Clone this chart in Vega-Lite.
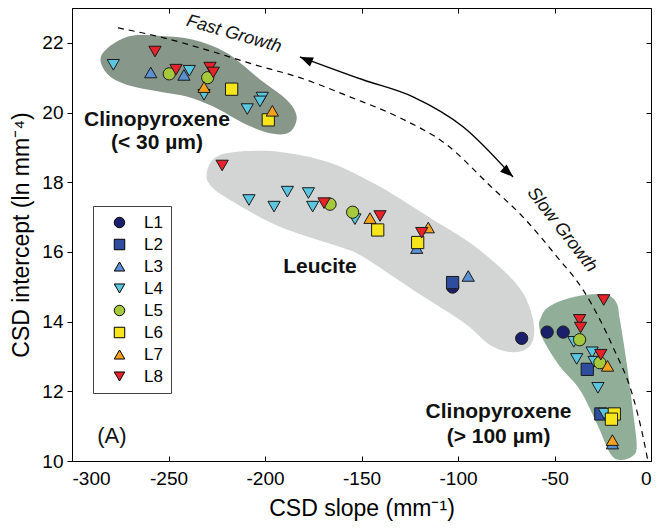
{
  "$schema": "https://vega.github.io/schema/vega-lite/v6.json",
  "width": 579,
  "height": 453,
  "autosize": "none",
  "padding": {"left": 72, "top": 8, "right": 5, "bottom": 69},
  "config": {
    "font": "Liberation Sans",
    "view": {"stroke": "#000", "strokeWidth": 1},
    "axis": {"grid": false, "domainColor": "#000", "tickColor": "#000", "labelColor": "#000", "titleColor": "#000", "labelFont": "Liberation Sans", "titleFont": "Liberation Sans", "labelFontSize": 19, "titleFontSize": 23, "titleFontWeight": "normal"},
    "legend": {"orient": "none", "legendX": 21, "legendY": 198, "padding": 8, "strokeColor": "#444", "fillColor": "#fff", "labelFontSize": 17, "labelFont": "Liberation Sans", "labelColor": "#000", "symbolSize": 110, "symbolStrokeColor": "#000", "symbolStrokeWidth": 1, "rowPadding": 4, "symbolOffset": 10, "labelOffset": 16}
  },
  "datasets": {
    "blobTop": [
      {"x": -284.6, "y": 21.66}, {"x": -271.7, "y": 22.17}, {"x": -254.4, "y": 22.2}, {"x": -237.2, "y": 22.09},
      {"x": -219.8, "y": 21.71}, {"x": -202.6, "y": 20.95}, {"x": -188.8, "y": 20.37}, {"x": -183.6, "y": 19.89},
      {"x": -187.0, "y": 19.45}, {"x": -195.7, "y": 19.39}, {"x": -209.5, "y": 19.65}, {"x": -226.8, "y": 20.17},
      {"x": -240.6, "y": 20.46}, {"x": -254.4, "y": 20.6}, {"x": -271.7, "y": 20.8}, {"x": -282.0, "y": 21.13}
    ],
    "blobLeu": [
      {"x": -230.1, "y": 18.3}, {"x": -225.9, "y": 18.7}, {"x": -215.5, "y": 18.87}, {"x": -192.2, "y": 18.87},
      {"x": -166.3, "y": 18.56}, {"x": -140.4, "y": 17.87}, {"x": -114.5, "y": 16.98}, {"x": -93.8, "y": 16.26},
      {"x": -76.7, "y": 15.48}, {"x": -66.3, "y": 14.82}, {"x": -61.1, "y": 14.05}, {"x": -61.1, "y": 13.47},
      {"x": -65.3, "y": 13.19}, {"x": -73.1, "y": 13.13}, {"x": -83.4, "y": 13.33}, {"x": -97.4, "y": 13.99},
      {"x": -123.3, "y": 14.91}, {"x": -149.2, "y": 15.86}, {"x": -161.1, "y": 16.14}, {"x": -192.2, "y": 16.72},
      {"x": -218.1, "y": 17.49}, {"x": -228.5, "y": 17.92}
    ],
    "blobGreen": [
      {"x": -57.5, "y": 14.05}, {"x": -54.0, "y": 14.38}, {"x": -45.4, "y": 14.62}, {"x": -33.3, "y": 14.77},
      {"x": -22.9, "y": 14.77}, {"x": -17.8, "y": 14.53}, {"x": -16.1, "y": 14.05}, {"x": -12.6, "y": 12.81},
      {"x": -9.2, "y": 11.37}, {"x": -7.4, "y": 10.41}, {"x": -10.0, "y": 10.12}, {"x": -16.1, "y": 10.03},
      {"x": -21.2, "y": 10.22}, {"x": -28.1, "y": 11.08}, {"x": -36.8, "y": 12.04}, {"x": -47.2, "y": 12.71},
      {"x": -55.8, "y": 13.47}, {"x": -57.9, "y": 13.86}
    ],
    "curve": [
      {"x": -276.2, "y": 22.43}, {"x": -254.4, "y": 22.17}, {"x": -228.5, "y": 21.77}, {"x": -205.2, "y": 21.37},
      {"x": -181.9, "y": 21.0}, {"x": -156.0, "y": 20.45}, {"x": -130.1, "y": 19.85}, {"x": -105.7, "y": 19.07},
      {"x": -83.4, "y": 17.9}, {"x": -66.3, "y": 17.0}, {"x": -48.7, "y": 15.86}, {"x": -35.2, "y": 14.91},
      {"x": -26.4, "y": 14.05}, {"x": -19.7, "y": 13.27}, {"x": -9.3, "y": 11.84}, {"x": -4.1, "y": 10.69},
      {"x": -1.6, "y": 10.0}
    ],
    "arrow": [
      {"x": -181.9, "y": 21.6}, {"x": -149.2, "y": 20.94}, {"x": -123.3, "y": 20.45}, {"x": -97.4, "y": 19.59}, {"x": -71.5, "y": 18.15}
    ],
    "regionLabels": [
      {"x": -256, "y": 19.79, "label": "Clinopyroxene"},
      {"x": -256, "y": 19.13, "label": "(< 30 µm)"},
      {"x": -171.5, "y": 15.57, "label": "Leucite"},
      {"x": -79, "y": 11.42, "label": "Clinopyroxene"},
      {"x": -79, "y": 10.68, "label": "(> 100 µm)"}
    ],
    "pts": [
      {"s": "L1", "x": -102.8, "y": 14.99}, {"s": "L1", "x": -67, "y": 13.52}, {"s": "L1", "x": -53.8, "y": 13.7}, {"s": "L1", "x": -45.5, "y": 13.7},
      {"s": "L2", "x": -102.8, "y": 15.12}, {"s": "L2", "x": -33, "y": 12.63}, {"s": "L2", "x": -26, "y": 11.35},
      {"s": "L3", "x": -259.2, "y": 21.15}, {"s": "L3", "x": -242, "y": 21.08}, {"s": "L3", "x": -121.4, "y": 16.11}, {"s": "L3", "x": -94.7, "y": 15.31}, {"s": "L3", "x": -20, "y": 10.5},
      {"s": "L4", "x": -278.6, "y": 21.37}, {"s": "L4", "x": -239.2, "y": 21.2}, {"s": "L4", "x": -231.6, "y": 20.51}, {"s": "L4", "x": -209.2, "y": 20.1},
      {"s": "L4", "x": -201.4, "y": 20.43}, {"s": "L4", "x": -202.6, "y": 20.32}, {"s": "L4", "x": -208.3, "y": 17.49}, {"s": "L4", "x": -195.3, "y": 17.3},
      {"s": "L4", "x": -188.4, "y": 17.73}, {"s": "L4", "x": -177.5, "y": 17.69}, {"s": "L4", "x": -175.3, "y": 17.3}, {"s": "L4", "x": -153.4, "y": 16.94},
      {"s": "L4", "x": -40, "y": 13.42}, {"s": "L4", "x": -30.5, "y": 13.12}, {"s": "L4", "x": -38.5, "y": 12.93}, {"s": "L4", "x": -29.5, "y": 12.85},
      {"s": "L4", "x": -27.5, "y": 12.1}, {"s": "L4", "x": -24.2, "y": 11.36},
      {"s": "L5", "x": -249.6, "y": 21.11}, {"s": "L5", "x": -229.7, "y": 21.0}, {"s": "L5", "x": -166.3, "y": 17.37}, {"s": "L5", "x": -154.6, "y": 17.14},
      {"s": "L5", "x": -37, "y": 13.48}, {"s": "L5", "x": -26.5, "y": 12.82},
      {"s": "L6", "x": -217.3, "y": 20.67}, {"s": "L6", "x": -198.3, "y": 19.79}, {"s": "L6", "x": -141.6, "y": 16.63}, {"s": "L6", "x": -120.9, "y": 16.27},
      {"s": "L6", "x": -19, "y": 11.35}, {"s": "L6", "x": -20.5, "y": 11.2},
      {"s": "L7", "x": -231.6, "y": 20.73}, {"s": "L7", "x": -196.2, "y": 20.05}, {"s": "L7", "x": -145.6, "y": 16.97}, {"s": "L7", "x": -115.4, "y": 16.7},
      {"s": "L7", "x": -22.5, "y": 12.73}, {"s": "L7", "x": -20, "y": 10.6},
      {"s": "L8", "x": -257, "y": 21.75}, {"s": "L8", "x": -246.1, "y": 21.23}, {"s": "L8", "x": -228.5, "y": 21.29}, {"s": "L8", "x": -226.8, "y": 21.15},
      {"s": "L8", "x": -222.2, "y": 18.48}, {"s": "L8", "x": -169.4, "y": 17.4}, {"s": "L8", "x": -140.4, "y": 17.03}, {"s": "L8", "x": -118.8, "y": 16.55},
      {"s": "L8", "x": -24.5, "y": 14.62}, {"s": "L8", "x": -37, "y": 14.05}, {"s": "L8", "x": -36.5, "y": 13.83}, {"s": "L8", "x": -26, "y": 13.05}
    ]
  },
  "layer": [
    {
      "data": {"name": "blobTop"},
      "mark": {"type": "line", "interpolate": "cardinal-closed", "fill": "#879789", "stroke": null, "strokeWidth": 0},
      "encoding": {
        "x": {"field": "x", "type": "quantitative", "scale": {"domain": [-300, 0], "nice": false, "zero": false}, "axis": null},
        "y": {"field": "y", "type": "quantitative", "scale": {"domain": [10, 23], "nice": false, "zero": false}, "axis": null},
        "order": {"value": null}
      }
    },
    {
      "data": {"name": "blobLeu"},
      "mark": {"type": "line", "interpolate": "cardinal-closed", "fill": "#d3d4d4", "stroke": null, "strokeWidth": 0},
      "encoding": {
        "x": {"field": "x", "type": "quantitative", "axis": null},
        "y": {"field": "y", "type": "quantitative", "axis": null},
        "order": {"value": null}
      }
    },
    {
      "data": {"name": "blobGreen"},
      "mark": {"type": "line", "interpolate": "cardinal-closed", "fill": "#90ae98", "stroke": null, "strokeWidth": 0},
      "encoding": {
        "x": {"field": "x", "type": "quantitative", "axis": null},
        "y": {"field": "y", "type": "quantitative", "axis": null},
        "order": {"value": null}
      }
    },
    {
      "data": {"name": "curve"},
      "mark": {"type": "line", "interpolate": "monotone", "stroke": "#000", "strokeWidth": 1.2, "strokeDash": [6, 5]},
      "encoding": {
        "x": {"field": "x", "type": "quantitative", "axis": {"orient": "top", "labels": false, "title": null, "tickSize": -5, "values": [-300, -250, -200, -150, -100, -50, 0], "domain": false}},
        "y": {"field": "y", "type": "quantitative", "axis": {"orient": "right", "labels": false, "title": null, "tickSize": -5, "values": [10, 12, 14, 16, 18, 20, 22], "domain": false}}
      }
    },
    {
      "data": {"name": "arrow"},
      "mark": {"type": "line", "interpolate": "monotone", "stroke": "#000", "strokeWidth": 1.4},
      "encoding": {
        "x": {"field": "x", "type": "quantitative", "axis": null},
        "y": {"field": "y", "type": "quantitative", "axis": null}
      }
    },
    {
      "data": {"values": [{"x": -178.8, "y": 21.52}]},
      "mark": {"type": "point", "shape": "M0,-1L-0.75,1L0.75,1Z", "filled": true, "fill": "#000", "stroke": null, "size": 170, "angle": 293, "opacity": 1},
      "encoding": {
        "x": {"field": "x", "type": "quantitative", "axis": null},
        "y": {"field": "y", "type": "quantitative", "axis": null}
      }
    },
    {
      "data": {"values": [{"x": -74, "y": 18.28}]},
      "mark": {"type": "point", "shape": "M0,-1L-0.75,1L0.75,1Z", "filled": true, "fill": "#000", "stroke": null, "size": 170, "angle": 132, "opacity": 1},
      "encoding": {
        "x": {"field": "x", "type": "quantitative", "axis": null},
        "y": {"field": "y", "type": "quantitative", "axis": null}
      }
    },
    {
      "data": {"name": "regionLabels"},
      "mark": {"type": "text", "font": "Liberation Sans", "fontWeight": "bold", "fontSize": 21, "align": "center", "baseline": "middle", "color": "#111"},
      "encoding": {
        "x": {"field": "x", "type": "quantitative", "axis": null},
        "y": {"field": "y", "type": "quantitative", "axis": null},
        "text": {"field": "label"}
      }
    },
    {
      "data": {"values": [{"x": -279.3, "y": 10.73, "label": "(A)"}]},
      "mark": {"type": "text", "font": "Liberation Sans", "fontSize": 22, "align": "center", "baseline": "middle", "color": "#111"},
      "encoding": {
        "x": {"field": "x", "type": "quantitative", "axis": null},
        "y": {"field": "y", "type": "quantitative", "axis": null},
        "text": {"field": "label"}
      }
    },
    {
      "data": {"values": [{"x": -216.1, "y": 22.25, "label": "Fast Growth"}]},
      "mark": {"type": "text", "font": "Liberation Sans", "fontStyle": "italic", "fontSize": 18, "align": "center", "baseline": "middle", "angle": 16, "color": "#111"},
      "encoding": {
        "x": {"field": "x", "type": "quantitative", "axis": null},
        "y": {"field": "y", "type": "quantitative", "axis": null},
        "text": {"field": "label"}
      }
    },
    {
      "data": {"values": [{"x": -46.1, "y": 16.63, "label": "Slow Growth"}]},
      "mark": {"type": "text", "font": "Liberation Sans", "fontStyle": "italic", "fontSize": 18, "align": "center", "baseline": "middle", "angle": 52, "color": "#111"},
      "encoding": {
        "x": {"field": "x", "type": "quantitative", "axis": null},
        "y": {"field": "y", "type": "quantitative", "axis": null},
        "text": {"field": "label"}
      }
    },
    {
      "data": {"name": "pts"},
      "mark": {"type": "point", "filled": true, "stroke": "#1a1a1a", "strokeWidth": 1, "size": 150, "opacity": 1},
      "encoding": {
        "x": {"field": "x", "type": "quantitative", "axis": {"orient": "bottom", "values": [-300, -250, -200, -150, -100, -50, 0], "labelExpr": "replace(datum.label, '−', '-')", "title": "CSD slope (mm⁻¹)", "tickSize": -5, "labelPadding": 13, "titlePadding": 9}},
        "y": {"field": "y", "type": "quantitative", "axis": {"orient": "left", "values": [10, 12, 14, 16, 18, 20, 22], "title": "CSD intercept (ln mm⁻⁴)", "tickSize": 5, "labelPadding": 4, "titlePadding": 8}},
        "color": {"field": "s", "type": "nominal", "scale": {"domain": ["L1", "L2", "L3", "L4", "L5", "L6", "L7", "L8"], "range": ["#1b1f6b", "#2e4d9e", "#5b90d2", "#5ac6e0", "#a5c93a", "#f6e51a", "#f5a11d", "#e6232a"]}, "legend": {"title": null}},
        "shape": {"field": "s", "type": "nominal", "scale": {"domain": ["L1", "L2", "L3", "L4", "L5", "L6", "L7", "L8"], "range": ["circle", "square", "triangle-up", "triangle-down", "circle", "square", "triangle-up", "triangle-down"]}, "legend": {"title": null}}
      }
    }
  ],
  "resolve": {"axis": {"x": "independent", "y": "independent"}}
}
